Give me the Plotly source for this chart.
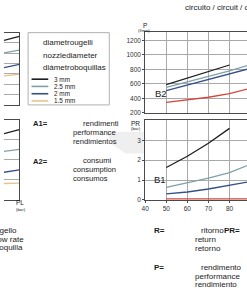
import plotly.graph_objects as go

W, H = 247, 293
FONT = "Liberation Sans, Arial, sans-serif"

# ---------------- data ----------------
# right charts: x = PL (bar)
x_b = [50, 60, 70, 80, 90]
b2_3mm = [590, 680, 770, 860]          # only up to 80
b2_25mm = [550, 625, 700, 780, 865]
b2_2mm = [505, 580, 655, 735, 815]
b2_red = [345, 378, 415, 465, 540]

b1_3mm = [1.63, 2.2, 2.85, 3.6]
b1_25mm = [0.63, 0.85, 1.1, 1.38, 1.8]
b1_2mm = [0.3, 0.4, 0.55, 0.72, 0.93]
b1_red = [0.05, 0.05, 0.05, 0.05, 0.05]

# left charts (only their right ends are visible)
x_a = [13, 15]
a1_3mm = [6.26, 6.65]
a1_25mm = [5.05, 5.3]
a1_2mm = [3.62, 3.93]
a1_15mm = [2.81, 2.97]

a2_3mm = [3.31, 3.51]
a2_25mm = [2.42, 2.52]
a2_2mm = [1.38, 1.5]
a2_15mm = [0.82, 0.84]

p_ticks = [200, 400, 600, 800, 1000, 1200]
pr_ticks = [0, 1, 2, 3]
x_ticks = [40, 50, 60, 70, 80, 90]

legend_labels = ["3 mm", "2.5 mm", "2 mm", "1.5 mm"]

C3 = "#1e1e1e"
C25 = "#80a0a6"
C2 = "#34508a"
C15 = "#e6c38e"
CR = "#d4483c"

def px(x):
    return x / W

def py(y):
    return 1 - y / H

fig = go.Figure()

def line(x, y, color, xa, ya):
    fig.add_trace(go.Scatter(x=x, y=y, mode="lines", line=dict(color=color, width=1.3),
                             xaxis=xa, yaxis=ya, hoverinfo="skip", showlegend=False))

# B2
line(x_b[:4], b2_3mm, C3, "x", "y")
line(x_b, b2_25mm, C25, "x", "y")
line(x_b, b2_2mm, C2, "x", "y")
line(x_b, b2_red, CR, "x", "y")
# B1
line(x_b[:4], b1_3mm, C3, "x2", "y2")
line(x_b, b1_25mm, C25, "x2", "y2")
line(x_b, b1_2mm, C2, "x2", "y2")
line(x_b, b1_red, CR, "x2", "y2")
# A1
line(x_a, a1_3mm, C3, "x3", "y3")
line(x_a, a1_25mm, C25, "x3", "y3")
line(x_a, a1_2mm, C2, "x3", "y3")
line(x_a, a1_15mm, C15, "x3", "y3")
# A2
line(x_a, a2_3mm, C3, "x4", "y4")
line(x_a, a2_25mm, C25, "x4", "y4")
line(x_a, a2_2mm, C2, "x4", "y4")
line(x_a, a2_15mm, C15, "x4", "y4")

GRID = "#a9a9a9"
FRAME = "#4a4a4a"
tickfont = dict(family=FONT, size=6.5, color="#333")

xr = [40, 88.3]
xdom = [px(143.5), 1]
common_x = dict(range=xr, domain=xdom, tickvals=x_ticks, showgrid=True, gridcolor=GRID,
                gridwidth=1, showline=True, mirror=True, linecolor=FRAME, linewidth=1,
                zeroline=False, tickfont=tickfont)
fig.update_layout(
    width=W, height=H, margin=dict(l=0, r=0, t=0, b=0),
    paper_bgcolor="white", plot_bgcolor="white", showlegend=False,
    xaxis=dict(**common_x, anchor="y", showticklabels=False, ticks=""),
    xaxis2=dict(**common_x, anchor="y2", showticklabels=True, ticks="outside",
                ticklen=2, tickcolor=FRAME),
    yaxis=dict(range=[200, 1320], domain=[py(114), py(32)], anchor="x", tickvals=p_ticks,
               showgrid=True, gridcolor=GRID, showline=True, linecolor=FRAME, linewidth=1,
               zeroline=False, ticks="outside", ticklen=2, tickcolor=FRAME, tickfont=tickfont),
    yaxis2=dict(range=[0, 4], domain=[py(202), py(121.7)], anchor="x2", tickvals=pr_ticks,
                showgrid=True, gridcolor=GRID, showline=True, linecolor=FRAME, linewidth=1,
                zeroline=False, ticks="outside", ticklen=2, tickcolor=FRAME, tickfont=tickfont),
    xaxis3=dict(range=[13, 15], domain=[0, px(15.5)], anchor="y3", showgrid=False,
                showline=True, mirror=True, linecolor=FRAME, linewidth=1, zeroline=False,
                showticklabels=False, ticks=""),
    yaxis3=dict(range=[0, 7], domain=[py(106), py(33)], anchor="x3", side="right", dtick=1,
                showgrid=True, gridcolor=GRID, showline=True, linecolor=FRAME, linewidth=1,
                zeroline=False, showticklabels=False, ticks=""),
    xaxis4=dict(range=[13, 15], domain=[0, px(15.5)], anchor="y4", showgrid=False,
                showline=True, mirror=True, linecolor=FRAME, linewidth=1, zeroline=False,
                showticklabels=False, ticks=""),
    yaxis4=dict(range=[0, 4], domain=[py(202), py(121)], anchor="x4", side="right", dtick=1,
                showgrid=True, gridcolor=GRID, showline=True, linecolor=FRAME, linewidth=1,
                zeroline=False, showticklabels=False, ticks=""),
)

shapes = []
# faint watermark
shapes.append(dict(type="path", xref="paper", yref="paper",
                   path=f"M {px(104)},{py(133)} L {px(142)},{py(133)} L {px(142)},{py(155)} "
                        f"L {px(124)},{py(155)} L {px(110)},{py(146)} Z",
                   fillcolor="#efefef", line=dict(width=0), layer="below"))
# legend box
shapes.append(dict(type="rect", xref="paper", yref="paper", x0=px(24.5), x1=px(107),
                   y0=py(106), y1=py(33), line=dict(color="#b0b0b0", width=1),
                   fillcolor="white"))
leg_colors = [C3, C25, C2, C15]
leg_y = [80, 87.3, 94.7, 102]
for c, yy in zip(leg_colors, leg_y):
    shapes.append(dict(type="line", xref="paper", yref="paper", x0=px(28), x1=px(45),
                       y0=py(yy), y1=py(yy), line=dict(color=c, width=1.6)))
fig.update_layout(shapes=shapes)

ann = []
def text(x, y, s, size=8, anchor="left", bold=False, color="#1a1a1a"):
    ann.append(dict(x=px(x), y=py(y), xref="paper", yref="paper", text=(f"<b>{s}</b>" if bold else s),
                    showarrow=False, xanchor=anchor, yanchor="middle",
                    font=dict(family=FONT, size=size, color=color)))

text(182, 8, "circuito / circuit / circuito", 8)
for s, yy in zip(["diametrougelli", "nozzlediameter", "diámetroboquillas"], [43, 56, 68]):
    text(38, yy, s, 8)
for s, yy in zip(legend_labels, leg_y):
    text(48.5, yy, s, 6.4)

text(27, 125, "A1=", 7.6, bold=True)
text(78, 125, "rendimenti", 7.6)
text(68, 134, "performance", 7.6)
text(68, 142.5, "rendimientos", 7.6)
text(27, 163, "A2=", 7.6, bold=True)
text(78, 162, "consumi", 7.6)
text(68, 171, "consumption", 7.6)
text(68, 180, "consumos", 7.6)

text(15, 233, "portata ugello", 8, anchor="right")
text(22, 241.5, "nozzle flow rate", 8, anchor="right")
text(21, 250, "caudal boquilla", 8, anchor="right")

text(16.5, 205, "PL", 6.5, anchor="center")
text(17, 211.5, "(bar)", 4.3, anchor="center")
text(143, 25.5, "P", 6.5, anchor="center")
text(142.5, 30.8, "(l/min)", 4.2, anchor="center")
text(133.5, 124.5, "PR", 6.5, anchor="center")
text(134, 129.5, "(bar)", 4.3, anchor="center")

text(151, 94, "B2", 9.5)
text(150, 181, "B1", 9.5)

text(150, 233, "R=", 8, bold=True)
text(198, 233, "ritorno", 8)
text(222, 233, "PR=", 8, bold=True)
text(192, 242, "return", 8)
text(192, 251, "retorno", 8)
text(150, 270, "P=", 8, bold=True)
text(198, 270, "rendimento", 8)
text(192, 279, "performance", 8)
text(192, 287.5, "rendimiento", 8)

fig.update_layout(annotations=ann)
fig.write_html("out.html")
